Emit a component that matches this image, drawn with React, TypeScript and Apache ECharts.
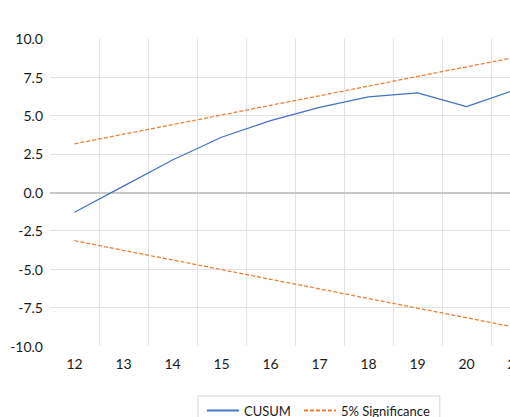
import React, { useEffect, useRef } from "react";
import * as echarts from "echarts";

const categories = ["12", "13", "14", "15", "16", "17", "18", "19", "20", "21", "22"];
const cusum = [-1.3, 0.4, 2.1, 3.58, 4.66, 5.53, 6.21, 6.47, 5.57, 6.67, 7.0];
const upper5 = [3.15, 3.78, 4.4, 5.03, 5.66, 6.28, 6.91, 7.54, 8.16, 8.79, 9.42];
const lower5 = [-3.15, -3.78, -4.4, -5.03, -5.66, -6.28, -6.91, -7.54, -8.16, -8.79, -9.42];

const FONT = "Lato, 'Open Sans', sans-serif";

export default function App() {
  const ref = useRef<HTMLDivElement>(null);
  useEffect(() => {
    if (!ref.current) return;
    const chart = echarts.init(ref.current, undefined, { renderer: "svg" });
    chart.setOption({
      animation: false,
      backgroundColor: "#ffffff",
      textStyle: { fontFamily: FONT },
      grid: { left: 50, top: 38.6, width: 539, height: 307.4, containLabel: false },
      legend: {
        left: 198,
        top: 396,
        itemWidth: 32,
        itemHeight: 10,
        itemGap: 12,
        padding: [8, 10, 8, 8],
        borderColor: "#d9d9d9",
        borderWidth: 1,
        itemStyle: { opacity: 0 },
        textStyle: { fontFamily: FONT, fontSize: 13, color: "#1a1a1a" },
        data: [{ name: "CUSUM" }, { name: "5% Significance" }],
      },
      xAxis: {
        type: "category",
        data: categories,
        boundaryGap: true,
        axisLine: { show: false, onZero: false },
        axisTick: { show: false },
        axisLabel: { fontFamily: FONT, fontSize: 14, color: "#1a1a1a", margin: 10 },
        splitLine: { show: true, showMinLine: false, lineStyle: { color: "#e3e3e3", width: 1 } },
      },
      yAxis: {
        type: "value",
        min: -10,
        max: 10,
        interval: 2.5,
        axisLine: { show: false },
        axisTick: { show: false },
        axisLabel: {
          fontFamily: FONT,
          fontSize: 14,
          color: "#1a1a1a",
          margin: 7,
          formatter: (v: number) => v.toFixed(1),
        },
        splitLine: {
          show: true,
          showMinLine: false,
          showMaxLine: false,
          lineStyle: { color: "#e3e3e3", width: 1 },
        },
      },
      series: [
        {
          name: "CUSUM",
          type: "line",
          data: cusum,
          symbol: "none",
          lineStyle: { color: "#4472C4", width: 1.25 },
          itemStyle: { color: "#4472C4" },
          z: 3,
          markLine: {
            silent: true,
            symbol: "none",
            label: { show: false },
            lineStyle: { color: "#c8c8c8", width: 2, type: "solid" },
            data: [{ yAxis: 0 }],
            z: 1,
          },
        },
        {
          name: "5% Significance",
          type: "line",
          data: upper5,
          symbol: "none",
          lineStyle: { color: "#ED7D31", width: 1.25, type: [4, 2] },
          itemStyle: { color: "#ED7D31" },
          z: 2,
        },
        {
          name: "5% Significance",
          type: "line",
          data: lower5,
          symbol: "none",
          lineStyle: { color: "#ED7D31", width: 1.25, type: [4, 2] },
          itemStyle: { color: "#ED7D31" },
          z: 2,
        },
      ],
    });
    return () => chart.dispose();
  }, []);
  return (
    <div style={{ position: "absolute", left: 0, top: 0, width: 510, height: 417, overflow: "hidden" }}>
      <div ref={ref} style={{ width: 638, height: 417 }} />
    </div>
  );
}
